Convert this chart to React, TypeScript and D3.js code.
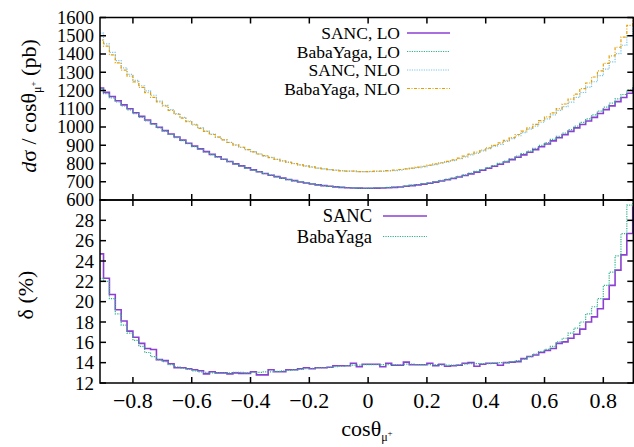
import React from "react";
import * as d3 from "d3";

// bin centres of cos(theta_mu+) histogram (bin width 0.02)
const binCenters: number[] = d3.range(92).map((i) => -0.91 + 0.02 * i);
const binHalfWidth = 0.01;

const sancLO: number[] = [
  1214, 1190, 1167, 1144, 1121, 1100, 1078, 1058, 1038, 1018, 999, 980, 962, 945, 928, 911, 895, 880, 865, 850,
  837, 823, 811, 798, 787, 776, 765, 755, 745, 736, 728, 720, 712, 706, 699, 693, 688, 683, 679, 675,
  672, 669, 667, 666, 665, 664, 664, 665, 666, 667, 669, 671, 675, 679, 683, 687, 692, 698, 704, 711,
  718, 726, 734, 743, 753, 763, 774, 785, 796, 808, 821, 834, 847, 862, 876, 892, 907, 924, 941, 958,
  976, 995, 1014, 1033, 1053, 1074, 1095, 1116, 1139, 1162, 1185, 1208,
];
const babaLO: number[] = [
  1207, 1183, 1160, 1137, 1115, 1094, 1073, 1053, 1033, 1014, 995, 977, 959, 942, 925, 909, 893, 878, 863, 849,
  835, 822, 810, 797, 786, 775, 764, 754, 745, 736, 727, 719, 712, 705, 699, 693, 688, 683, 679, 675,
  672, 669, 667, 666, 665, 664, 665, 666, 667, 669, 671, 674, 677, 681, 685, 690, 695, 701, 707, 714,
  721, 729, 738, 747, 757, 767, 778, 789, 801, 813, 826, 840, 854, 868, 883, 899, 915, 932, 949, 967,
  986, 1005, 1025, 1045, 1066, 1087, 1109, 1131, 1154, 1178, 1202, 1226,
];
const sancNLO: number[] = [
  1514, 1455, 1409, 1364, 1324, 1288, 1256, 1226, 1198, 1174, 1142, 1119, 1096, 1073, 1053, 1033, 1014, 996, 977, 961,
  946, 930, 916, 902, 889, 876, 865, 852, 840, 834, 823, 814, 807, 800, 793, 787, 780, 775, 771, 766,
  764, 761, 758, 759, 755, 756, 756, 757, 757, 760, 761, 763, 770, 773, 777, 782, 789, 794, 802, 808,
  816, 826, 836, 847, 856, 869, 882, 895, 905, 921, 936, 952, 969, 988, 1005, 1026, 1045, 1066, 1091, 1112,
  1136, 1162, 1189, 1219, 1248, 1281, 1317, 1357, 1402, 1448, 1501, 1562,
];
const babaNLO: number[] = [
  1476, 1443, 1395, 1351, 1312, 1279, 1247, 1217, 1188, 1162, 1137, 1115, 1091, 1070, 1049, 1030, 1011, 993, 976, 959,
  944, 929, 915, 901, 889, 876, 864, 852, 843, 832, 823, 814, 806, 799, 792, 786, 781, 775, 771, 766,
  763, 760, 758, 758, 756, 756, 757, 758, 759, 761, 764, 767, 771, 775, 780, 785, 791, 798, 804, 812,
  820, 830, 840, 851, 862, 874, 886, 899, 913, 927, 942, 959, 977, 995, 1014, 1035, 1055, 1077, 1101, 1126,
  1153, 1180, 1210, 1241, 1274, 1308, 1349, 1390, 1437, 1493, 1557, 1606,
];
const deltaSANC: number[] = [
  24.7, 22.3, 20.7, 19.2, 18.1, 17.1, 16.5, 15.9, 15.4, 15.3, 14.3, 14.2, 13.9, 13.5, 13.5, 13.4, 13.3, 13.2, 12.9, 13.1,
  13.0, 13.0, 12.9, 13.0, 12.95, 12.95, 13.1, 12.8, 12.8, 13.3, 13.1, 13.1, 13.3, 13.3, 13.4, 13.5, 13.4, 13.5, 13.5, 13.55,
  13.7, 13.7, 13.7, 13.95, 13.6, 13.85, 13.85, 13.85, 13.6, 13.95, 13.75, 13.75, 14.05, 13.8, 13.8, 13.8, 13.95, 13.7, 13.85, 13.65,
  13.7, 13.75, 13.95, 14.0, 13.65, 13.85, 13.95, 13.95, 13.75, 14.0, 14.05, 14.1, 14.4, 14.6, 14.75, 15.0, 15.2, 15.4, 15.9, 16.05,
  16.4, 16.8, 17.3, 18.0, 18.5, 19.3, 20.25, 21.6, 23.1, 24.6, 26.7, 29.3,
];
const deltaBaba: number[] = [
  22.3, 22.0, 20.3, 18.8, 17.7, 16.9, 16.2, 15.6, 15.0, 14.6, 14.3, 14.1, 13.8, 13.6, 13.45, 13.35, 13.2, 13.1, 13.05, 13.0,
  13.0, 13.0, 13.0, 13.05, 13.05, 13.0, 13.05, 13.05, 13.1, 13.1, 13.15, 13.2, 13.25, 13.3, 13.35, 13.4, 13.45, 13.5, 13.5, 13.55,
  13.6, 13.65, 13.7, 13.75, 13.75, 13.8, 13.8, 13.8, 13.8, 13.8, 13.8, 13.8, 13.85, 13.85, 13.8, 13.8, 13.8, 13.8, 13.75, 13.75,
  13.75, 13.8, 13.85, 13.9, 13.9, 13.9, 13.9, 13.95, 14.0, 14.0, 14.1, 14.2, 14.35, 14.6, 14.85, 15.1, 15.3, 15.6, 16.05, 16.4,
  16.9, 17.4, 18.0, 18.8, 19.5, 20.3, 21.6, 22.9, 24.5, 26.7, 29.5, 31.0,
];

const xTicks = [-0.8, -0.6, -0.4, -0.2, 0, 0.2, 0.4, 0.6, 0.8];
const yTopTicks = [600, 700, 800, 900, 1000, 1100, 1200, 1300, 1400, 1500, 1600];
const yBotTicks = [12, 14, 16, 18, 20, 22, 24, 26, 28];

const topSeries = [
  { name: "SANC, LO", values: sancLO, color: "#8c3fd2", dash: "", width: 1.6 },
  { name: "BabaYaga, LO", values: babaLO, color: "#2ab58a", dash: "1.2,1.2", width: 1.2 },
  { name: "SANC, NLO", values: sancNLO, color: "#7cc4ec", dash: "1.2,1.2", width: 1.2 },
  { name: "BabaYaga, NLO", values: babaNLO, color: "#e69f00", dash: "3,1.5,1,1.5", width: 1.2 },
];
const botSeries = [
  { name: "SANC", values: deltaSANC, color: "#8c3fd2", dash: "", width: 1.6 },
  { name: "BabaYaga", values: deltaBaba, color: "#2ab58a", dash: "1.2,1.2", width: 1.2 },
];

const FONT = "Liberation Serif, Times New Roman, Tinos, Times, DejaVu Serif, serif";

export default function App() {
  const L = 100, R = 633.3, T = 17.5, M = 200, B = 383;
  const x = d3.scaleLinear().domain([-0.912, 0.902]).range([L, R]);
  const yTop = d3.scaleLinear().domain([600, 1600]).range([M, T]);
  const yBot = d3.scaleLinear().domain([12, 30]).range([B, M]);

  const stepPath = (vals: number[], y: d3.ScaleLinear<number, number>) => {
    const pts: [number, number][] = [];
    vals.forEach((v, i) => {
      pts.push([binCenters[i] - binHalfWidth, v]);
      pts.push([binCenters[i] + binHalfWidth, v]);
    });
    return d3.line<[number, number]>().x((d) => x(d[0])).y((d) => y(d[1]))(pts) || "";
  };
  const fmtX = (v: number) => (v === 0 ? "0" : (v < 0 ? "\u2212" : "") + Math.abs(v).toFixed(1));
  const tl = 6;
  const ts: React.CSSProperties = { fontFamily: FONT };

  return (
    <svg width={634} height={447} style={{ position: "absolute", left: 0, top: 0, background: "#fff", fontFamily: FONT }}>
      <defs>
        <clipPath id="clipTop"><rect x={L} y={T} width={R - L} height={M - T} /></clipPath>
        <clipPath id="clipBot"><rect x={L} y={M} width={R - L} height={B - M} /></clipPath>
      </defs>

      <g clipPath="url(#clipTop)">
        {topSeries.map((s) => (
          <path key={s.name} d={stepPath(s.values, yTop)} fill="none" stroke={s.color} strokeWidth={s.width} strokeDasharray={s.dash || undefined} />
        ))}
      </g>
      <g clipPath="url(#clipBot)">
        {botSeries.map((s) => (
          <path key={s.name} d={stepPath(s.values, yBot)} fill="none" stroke={s.color} strokeWidth={s.width} strokeDasharray={s.dash || undefined} />
        ))}
      </g>

      <rect x={L} y={T} width={R - L} height={M - T} fill="none" stroke="#000" strokeWidth={1.5} />
      <rect x={L} y={M} width={R - L} height={B - M} fill="none" stroke="#000" strokeWidth={1.5} />

      {xTicks.map((t) => (
        <g key={"xt" + t} stroke="#000" strokeWidth={1.5}>
          <line x1={x(t)} x2={x(t)} y1={T} y2={T + tl} />
          <line x1={x(t)} x2={x(t)} y1={M} y2={M - tl} />
          <line x1={x(t)} x2={x(t)} y1={M} y2={M + tl} />
          <line x1={x(t)} x2={x(t)} y1={B} y2={B - tl} />
        </g>
      ))}
      {xTicks.map((t) => (
        <text key={"xl" + t} x={x(t)} y={408} textAnchor="middle" fontSize={22} style={ts}>{fmtX(t)}</text>
      ))}

      {yTopTicks.map((t) => (
        <g key={"yt" + t}>
          <line x1={L} x2={L + tl} y1={yTop(t)} y2={yTop(t)} stroke="#000" strokeWidth={1.5} />
          <line x1={R} x2={R - tl} y1={yTop(t)} y2={yTop(t)} stroke="#000" strokeWidth={1.5} />
          <text x={94} y={yTop(t)} dy="0.35em" textAnchor="end" fontSize={18.5} style={ts}>{t}</text>
        </g>
      ))}
      {yBotTicks.map((t) => (
        <g key={"yb" + t}>
          <line x1={L} x2={L + tl} y1={yBot(t)} y2={yBot(t)} stroke="#000" strokeWidth={1.5} />
          <line x1={R} x2={R - tl} y1={yBot(t)} y2={yBot(t)} stroke="#000" strokeWidth={1.5} />
          <text x={94} y={yBot(t)} dy="0.35em" textAnchor="end" fontSize={19} style={ts}>{t}</text>
        </g>
      ))}

      {topSeries.map((s, i) => (
        <g key={"lg" + s.name}>
          <text x={400} y={33 + i * 18.5} dy="0.35em" textAnchor="end" fontSize={17.5} style={ts}>{s.name}</text>
          <line x1={407} x2={450} y1={33 + i * 18.5} y2={33 + i * 18.5} stroke={s.color} strokeWidth={s.width} strokeDasharray={s.dash || undefined} />
        </g>
      ))}
      {botSeries.map((s, i) => (
        <g key={"lb" + s.name}>
          <text x={372} y={216 + i * 20.5} dy="0.35em" textAnchor="end" fontSize={18.5} style={ts}>{s.name}</text>
          <line x1={383} x2={427} y1={216 + i * 20.5} y2={216 + i * 20.5} stroke={s.color} strokeWidth={s.width} strokeDasharray={s.dash || undefined} />
        </g>
      ))}

      <text x={367} y={436} textAnchor="middle" fontSize={22} style={ts}>
        cos{"\u03b8"}
        <tspan fontSize={12} dy={5}>{"\u03bc"}</tspan>
        <tspan fontSize={9} dy={-5}>+</tspan>
      </text>
      <text transform="translate(36,106) rotate(-90)" textAnchor="middle" fontSize={22} style={ts}>
        <tspan fontStyle="italic">d</tspan>{"\u03c3 / cos\u03b8"}
        <tspan fontSize={12} dy={5}>{"\u03bc"}</tspan>
        <tspan fontSize={9} dy={-5}>+</tspan>
        <tspan>{" (pb)"}</tspan>
      </text>
      <text transform="translate(33,295) rotate(-90)" textAnchor="middle" fontSize={22} style={ts}>
        {"\u03b4 (%)"}
      </text>
    </svg>
  );
}
